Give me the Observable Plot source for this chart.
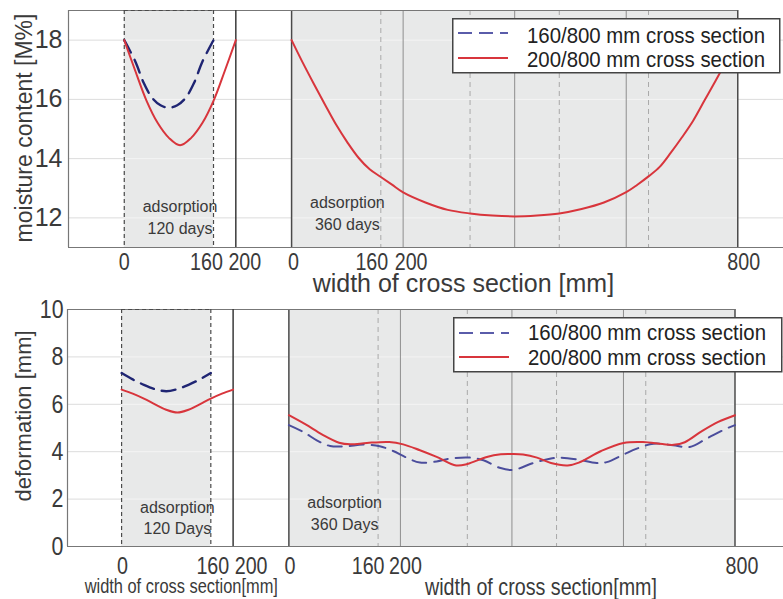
<!DOCTYPE html>
<html><head><meta charset="utf-8">
<script src="https://cdn.jsdelivr.net/npm/d3@7"></script>
<script src="https://cdn.jsdelivr.net/npm/@observablehq/plot@0.6"></script>
<style>
body{margin:0;background:#fff;}
#wrap{position:relative;width:783px;height:599px;overflow:hidden;background:#fff;}
#wrap > div > svg{display:block;}
.legend{position:absolute;}
</style></head><body>
<div id="wrap"><div id="top"></div><div id="bottom"></div></div>
<script>
// ---------- shared layout of the sub-panels (mm) ----------
const X_OFF = 300;                 // right sub-panel offset on the shared x scale
const leftGray = [0, 160];
const leftEnd = 200;
const rightPanel = [0, 800];
const rightSolid = [200, 400, 600];
const rightDashed = [160, 320, 480, 640];

// ---------- series names / styles ----------
const seriesNames = ["160/800 mm cross section", "200/800 mm cross section"];
const RED = "#d8353c";

// ---------- TOP: moisture content [M%] ----------
const topYTicks = [12, 14, 16, 18];
const mcLeft160X = [0, 20, 35, 50, 65, 80, 95, 110, 125, 140, 160];
const mcLeft160Y = [18, 17.27, 16.55, 16.05, 15.8, 15.72, 15.8, 16.05, 16.55, 17.27, 18];
const mcLeft200X = [0, 20, 40, 60, 80, 100, 120, 140, 160, 180, 200];
const mcLeft200Y = [18, 16.95, 15.95, 15.2, 14.7, 14.45, 14.7, 15.2, 15.95, 16.95, 18];
const mcRight200X = [0, 20, 40, 60, 80, 100, 120, 140, 160, 180, 200, 240, 280, 320, 360, 400, 440, 480, 520, 560, 600, 620, 640, 660, 680, 700, 720, 740, 760, 780, 800];
const mcRight200Y = [18, 17.24, 16.52, 15.82, 15.14, 14.55, 14.03, 13.64, 13.38, 13.12, 12.86, 12.52, 12.27, 12.15, 12.08, 12.05, 12.08, 12.15, 12.3, 12.52, 12.87, 13.12, 13.4, 13.72, 14.2, 14.72, 15.28, 15.95, 16.62, 17.3, 17.98];

// ---------- BOTTOM: deformation [mm] ----------
const botYTicks = [0, 2, 4, 6, 8, 10];
const defLeft160X = [0, 20, 40, 60, 80, 100, 120, 140, 160];
const defLeft160Y = [7.32, 7.05, 6.82, 6.64, 6.55, 6.64, 6.82, 7.05, 7.32];
const defLeft200X = [0, 20, 40, 60, 80, 100, 120, 140, 160, 180, 200];
const defLeft200Y = [6.62, 6.45, 6.24, 6.0, 5.77, 5.65, 5.77, 6.0, 6.24, 6.45, 6.62];
const defRight160X = [0, 26, 50, 74, 103, 133, 163, 187, 211, 235, 265, 289, 325, 349, 378, 402, 438, 468, 486, 516, 552, 570, 600, 624, 654, 689, 719, 749, 785, 800];
const defRight160Y = [5.12, 4.83, 4.48, 4.24, 4.23, 4.3, 4.23, 4.03, 3.75, 3.54, 3.59, 3.71, 3.75, 3.64, 3.32, 3.23, 3.52, 3.7, 3.75, 3.68, 3.52, 3.56, 3.88, 4.13, 4.34, 4.27, 4.2, 4.55, 4.98, 5.12];
const defRight200X = [0, 30, 60, 90, 110, 140, 180, 205, 235, 265, 300, 320, 355, 380, 400, 420, 445, 470, 500, 520, 560, 600, 635, 670, 690, 710, 740, 770, 800];
const defRight200Y = [5.54, 5.15, 4.72, 4.38, 4.31, 4.37, 4.41, 4.31, 4.06, 3.78, 3.42, 3.48, 3.78, 3.89, 3.9, 3.88, 3.75, 3.52, 3.42, 3.54, 4.03, 4.37, 4.41, 4.32, 4.29, 4.4, 4.86, 5.26, 5.54];

const zip = (xs, ys) => xs.map((x, i) => ({x, y: ys[i]}));
const TXT = "#3a3a3a";
const FONT = "'Liberation Sans', Arial, sans-serif";
// "narrow" texts are drawn in Liberation Sans and horizontally condensed afterwards
const NARROW = "'Liberation Sans Narrow', 'Liberation Sans', Arial, sans-serif";

function panel(cfg) {
  const [y0, y1] = cfg.yDomain;
  const [xd0] = cfg.xDomain;
  const grayRects = [{x1: leftGray[0], x2: leftGray[1]}, {x1: rightPanel[0] + X_OFF, x2: rightPanel[1] + X_OFF}];
  const innerGrid = cfg.yTicks.filter(t => t > y0 && t < y1).flatMap(y => grayRects.map(r => ({y, ...r})));
  const sh = d => d + X_OFF;
  const marks = [
    Plot.ruleY(cfg.yTicks.filter(t => t > y0 && t < y1), {stroke: "#dcdcdc", strokeWidth: 1}),
    Plot.rect(grayRects, {x1: "x1", x2: "x2", y1: y0, y2: y1, fill: "#e8e9e9"}),
    Plot.ruleY(innerGrid, {y: "y", x1: "x1", x2: "x2", stroke: "#f4f4f4", strokeWidth: 1}),
    Plot.ruleX(rightDashed, {x: sh, stroke: "#a9a9a9", strokeDasharray: "5,4", strokeWidth: 1}),
    Plot.ruleX(rightSolid, {x: sh, stroke: "#8e8e8e", strokeWidth: 1}),
    Plot.ruleX(rightPanel, {x: sh, stroke: "#4a4a4a", strokeWidth: 1.5}),
    Plot.ruleX([xd0], {stroke: "#777", strokeWidth: 1.2}),
    Plot.ruleY([y1], {x1: xd0, x2: rightPanel[1] + X_OFF, stroke: "#777", strokeWidth: 1.2}),
    Plot.ruleX([leftEnd], {stroke: "#3a3a3a", strokeWidth: 1.5}),
    Plot.ruleX(leftGray, {stroke: "#4a4a4a", strokeDasharray: "4,3", strokeWidth: 1.2}),
    Plot.ruleY([y1], {x1: leftGray[0], x2: leftGray[1], stroke: "#4a4a4a", strokeDasharray: "4,3", strokeWidth: 1.2}),
    Plot.ruleY([y0], {stroke: "#777", strokeWidth: 1.2}),
  ];
  for (const s of cfg.series) {
    marks.push(Plot.line(s.data, {x: s.right ? d => d.x + X_OFF : "x", y: "y", curve: "catmull-rom",
      stroke: s.color, strokeWidth: s.width, strokeDasharray: s.dash || null}));
  }
  marks.push(Plot.axisY({ticks: cfg.yTicks, tickSize: 0, tickPadding: cfg.tickPad, fontSize: cfg.yFont, label: null, fontFamily: cfg.yFamily}));
  for (const t of cfg.xTickLabels) {
    marks.push(Plot.text([t.v], {x: t.right ? sh : d => d, text: d => String(d), frameAnchor: "bottom", lineAnchor: "top",
      dy: cfg.xTickDy, dx: t.dx, fontSize: cfg.xFont, fontFamily: NARROW, fill: TXT}));
  }
  for (const a of cfg.notes) {
    marks.push(Plot.text([a.text], {x: a.right ? a.x + X_OFF : a.x, y: a.y, lineAnchor: "middle", lineHeight: 1.35,
      fontSize: cfg.noteFont, fontFamily: FONT, fill: TXT}));
  }
  for (const a of cfg.xTitles) {
    marks.push(Plot.text([a.text], {x: a.right ? a.x + X_OFF : a.x, frameAnchor: "bottom", dy: a.dy, lineAnchor: "middle",
      fontSize: a.size, fontFamily: a.family, fill: TXT}));
  }
  marks.push(Plot.text([cfg.yTitle], {frameAnchor: "left", textAnchor: "middle", rotate: -90, dx: cfg.yTitleDx, dy: cfg.yTitleDy,
    fontSize: cfg.yTitleSize, fontFamily: FONT, fill: TXT}));
  return Plot.plot({
    width: 783, height: cfg.height, marginTop: cfg.mt, marginBottom: cfg.mb, marginLeft: cfg.ml, marginRight: 0,
    x: {domain: cfg.xDomain, axis: null},
    y: {domain: cfg.yDomain, axis: null},
    style: {fontFamily: FONT, background: "transparent", color: TXT, overflow: "visible"},
    marks
  });
}

const topChart = panel({
  height: 300, mt: 10, mb: 53, ml: 68,
  xDomain: [-100, 1182], yDomain: [11, 19], yTicks: topYTicks,
  tickPad: 6, yFont: 25, yFamily: FONT, xFont: 24, xTickDy: 5,
  series: [
    {data: zip(mcLeft160X, mcLeft160Y), color: "#1f2573", width: 2.4, dash: "14,8"},
    {data: zip(mcLeft200X, mcLeft200Y), color: RED, width: 2},
    {data: zip(mcRight200X, mcRight200Y), color: RED, width: 2, right: true},
  ],
  xTickLabels: [
    {v: 0, dx: 0}, {v: 160, dx: -7}, {v: 200, dx: 9},
    {v: 0, dx: 2, right: true}, {v: 160, dx: -9, right: true}, {v: 200, dx: 8, right: true}, {v: 800, dx: 6, right: true}
  ],
  noteFont: 16,
  notes: [
    {text: "adsorption\n120 days", x: 100, y: 12.07},
    {text: "adsorption\n360 days", x: 100, y: 12.19, right: true}
  ],
  xTitles: [{text: "width of cross section [mm]", x: 308, right: true, dy: 36, size: 25, family: FONT}],
  yTitle: "moisture content [M%]", yTitleDx: -44, yTitleDy: -1, yTitleSize: 23
});

const botChart = panel({
  height: 299, mt: 9, mb: 53, ml: 67,
  xDomain: [-97, 1187], yDomain: [0, 10], yTicks: botYTicks,
  tickPad: 4, yFont: 26, yFamily: NARROW, xFont: 24, xTickDy: 10,
  series: [
    {data: zip(defLeft160X, defLeft160Y), color: "#1f2573", width: 2.4, dash: "14,8"},
    {data: zip(defLeft200X, defLeft200Y), color: RED, width: 2},
    {data: zip(defRight160X, defRight160Y), color: "#4b4d9c", width: 2, dash: "14,8", right: true},
    {data: zip(defRight200X, defRight200Y), color: RED, width: 2, right: true},
  ],
  xTickLabels: [
    {v: 0, dx: 1}, {v: 160, dx: 2}, {v: 200, dx: 18},
    {v: 0, dx: 1, right: true}, {v: 160, dx: -10, right: true}, {v: 200, dx: 5, right: true}, {v: 800, dx: 7, right: true}
  ],
  noteFont: 16,
  notes: [
    {text: "adsorption\n120 Days", x: 100, y: 1.27},
    {text: "adsorption\n360 Days", x: 100, y: 1.46, right: true}
  ],
  xTitles: [
    {text: "width of cross section[mm]", x: 107, dy: 40, size: 20, family: NARROW},
    {text: "width of cross section[mm]", x: 452, right: true, dy: 41, size: 24, family: NARROW}
  ],
  yTitle: "deformation [mm]", yTitleDx: -44, yTitleDy: -12, yTitleSize: 22
});

document.getElementById("top").appendChild(topChart);
document.getElementById("bottom").appendChild(botChart);

// condense the "narrow" texts (Arial Narrow look)
document.querySelectorAll('#wrap [font-family*="Narrow"] text').forEach(t => {
  const L = t.getComputedTextLength();
  if (L > 0) {
    t.setAttribute("textLength", (L * 0.82).toFixed(1));
    t.setAttribute("lengthAdjust", "spacingAndGlyphs");
  }
});

// ---------- legends (overlaid boxes) ----------
const legendStyles = [
  {color: "#5a5caa", dash: "14,7", width: 2},
  {color: RED, dash: null, width: 2}
];
function legend(left, top, w, h, lineYs, textYs) {
  const ns = "http://www.w3.org/2000/svg";
  const svg = document.createElementNS(ns, "svg");
  svg.setAttribute("class", "legend");
  svg.setAttribute("width", w + 2); svg.setAttribute("height", h + 2);
  svg.style.left = left + "px"; svg.style.top = top + "px";
  const r = document.createElementNS(ns, "rect");
  Object.entries({x: 0.75, y: 0.75, width: w, height: h, fill: "#fff", stroke: "#444", "stroke-width": 1.5})
    .forEach(([k, v]) => r.setAttribute(k, v));
  svg.appendChild(r);
  seriesNames.forEach((name, i) => {
    const l = document.createElementNS(ns, "line");
    const st = legendStyles[i];
    Object.entries({x1: 6, x2: 56, y1: lineYs[i], y2: lineYs[i], stroke: st.color, "stroke-width": st.width})
      .forEach(([k, v]) => l.setAttribute(k, v));
    if (st.dash) l.setAttribute("stroke-dasharray", st.dash);
    svg.appendChild(l);
    const t = document.createElementNS(ns, "text");
    Object.entries({x: 75, y: textYs[i], "font-size": 21.5, "font-family": "Liberation Sans, Arial, sans-serif", fill: "#222",
      textLength: 238, lengthAdjust: "spacingAndGlyphs"}).forEach(([k, v]) => t.setAttribute(k, v));
    t.textContent = name;
    svg.appendChild(t);
  });
  document.getElementById("wrap").appendChild(svg);
}
legend(452, 18, 327, 54, [15, 40], [25, 49]);
legend(453, 317, 328, 54, [16, 40], [23, 48]);
</script>
</body></html>
